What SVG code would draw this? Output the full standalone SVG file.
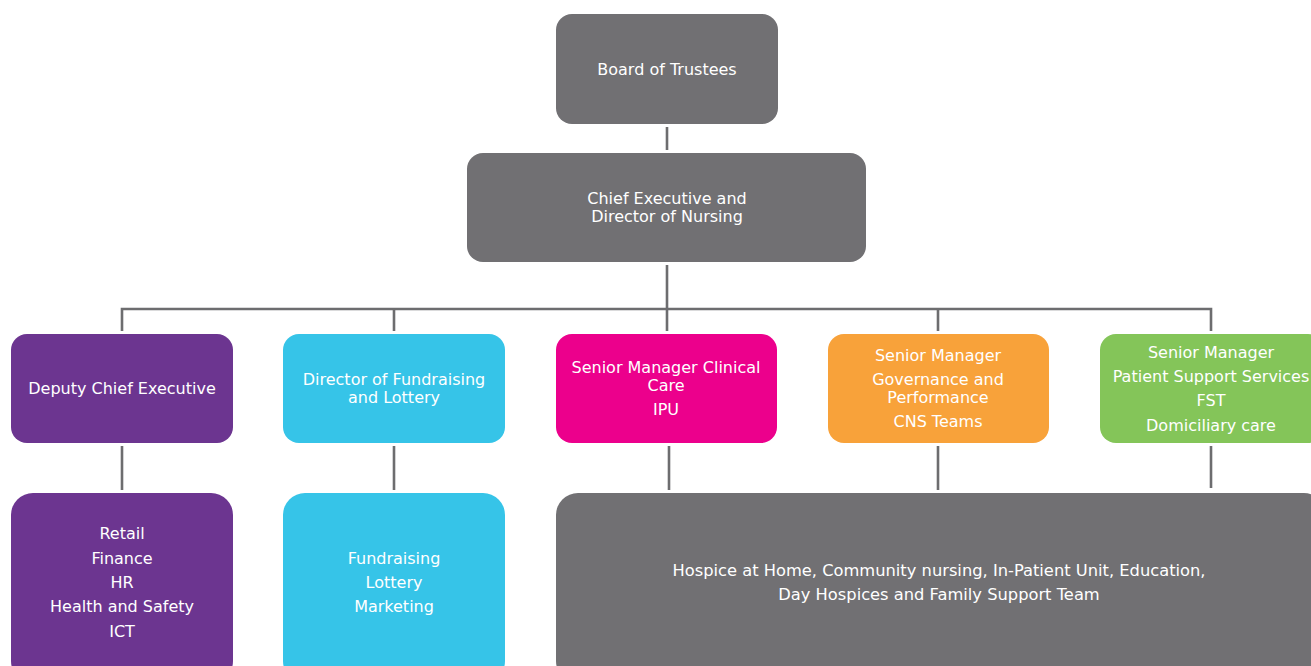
<svg xmlns="http://www.w3.org/2000/svg" width="1311" height="666" viewBox="0 0 1311 666">
<style>
.t{font-family:"DejaVu Sans",Verdana,sans-serif;font-size:16px;fill:#ffffff;text-anchor:middle}
.w{font-size:16.3px}
.c{stroke:#6d6d6f;stroke-width:2.6;fill:none}
.gray{fill:#717073}.purple{fill:#6c3590}.cyan{fill:#36c4e8}.mag{fill:#ec008c}.orange{fill:#f8a23a}.green{fill:#84c559}
</style>
<rect width="1311" height="666" fill="#ffffff"/>
<g id="connectors">
<line class="c" x1="667" y1="127" x2="667" y2="150"/>
<line class="c" x1="667" y1="265" x2="667" y2="331"/>
<polyline class="c" points="122,331 122,309 1211,309 1211,331"/>
<line class="c" x1="394" y1="309" x2="394" y2="331"/>
<line class="c" x1="938" y1="309" x2="938" y2="331"/>
<line class="c" x1="122" y1="446" x2="122" y2="490"/>
<line class="c" x1="394" y1="446" x2="394" y2="490"/>
<line class="c" x1="669" y1="446" x2="669" y2="490"/>
<line class="c" x1="938" y1="446" x2="938" y2="490"/>
<line class="c" x1="1211" y1="446" x2="1211" y2="488"/>
</g>
<g id="board"><rect class="gray" x="556" y="14" width="222" height="110" rx="16"/><text class="t" x="667" y="75">Board of Trustees</text></g>
<g id="ceo"><rect class="gray" x="467" y="153" width="399" height="109" rx="16"/><text class="t" x="667" y="204">Chief Executive and</text><text class="t" x="667" y="222">Director of Nursing</text></g>
<g id="deputy"><rect class="purple" x="11" y="334" width="222" height="109" rx="16"/><text class="t" x="122" y="394">Deputy Chief Executive</text></g>
<g id="fundraising-director"><rect class="cyan" x="283" y="334" width="222" height="109" rx="16"/><text class="t" x="394" y="385">Director of Fundraising</text><text class="t" x="394" y="403">and Lottery</text></g>
<g id="clinical"><rect class="mag" x="556" y="334" width="221" height="109" rx="16"/><text class="t" x="666" y="373">Senior Manager Clinical</text><text class="t" x="666" y="391">Care</text><text class="t" x="666" y="415">IPU</text></g>
<g id="governance"><rect class="orange" x="828" y="334" width="221" height="109" rx="16"/><text class="t" x="938" y="361">Senior Manager</text><text class="t" x="938" y="385">Governance and</text><text class="t" x="938" y="403">Performance</text><text class="t" x="938" y="427">CNS Teams</text></g>
<g id="patient-support"><rect class="green" x="1100" y="334" width="224" height="109" rx="16"/><text class="t" x="1211" y="358">Senior Manager</text><text class="t" x="1211" y="382">Patient Support Services</text><text class="t" x="1211" y="406">FST</text><text class="t" x="1211" y="431">Domiciliary care</text></g>
<g id="deputy-teams"><rect class="purple" x="11" y="493" width="222" height="190" rx="22"/><text class="t" x="122" y="539">Retail</text><text class="t" x="122" y="564">Finance</text><text class="t" x="122" y="588">HR</text><text class="t" x="122" y="612">Health and Safety</text><text class="t" x="122" y="637">ICT</text></g>
<g id="fundraising-teams"><rect class="cyan" x="283" y="493" width="222" height="190" rx="22"/><text class="t" x="394" y="564">Fundraising</text><text class="t" x="394" y="588">Lottery</text><text class="t" x="394" y="612">Marketing</text></g>
<g id="clinical-teams"><rect class="gray" x="556" y="493" width="770" height="190" rx="22"/><text class="t w" x="939" y="576">Hospice at Home, Community nursing, In-Patient Unit, Education,</text><text class="t w" x="939" y="600">Day Hospices and Family Support Team</text></g>
</svg>
